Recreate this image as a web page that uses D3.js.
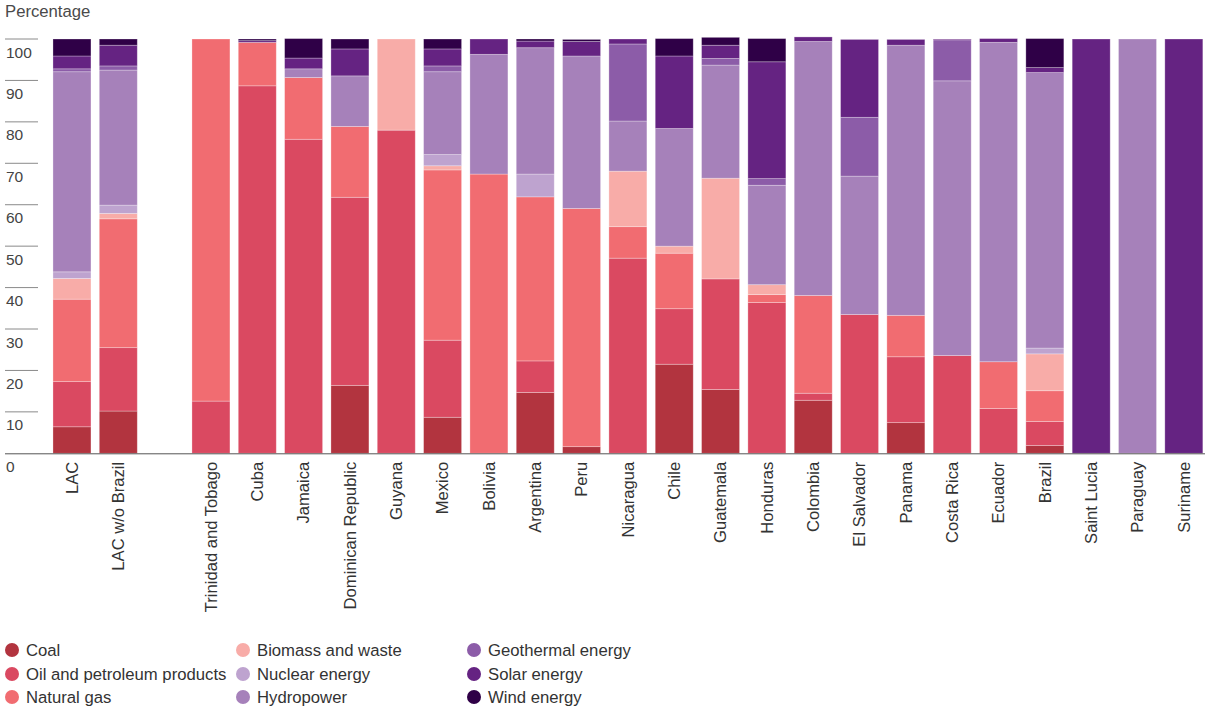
<!DOCTYPE html>
<html><head><meta charset="utf-8">
<script src="https://cdn.jsdelivr.net/npm/d3@7"></script>
<style>
html,body{margin:0;padding:0;background:#fff;}
svg{display:block;font-family:"Liberation Sans",Arial,sans-serif;}
</style></head>
<body>
<svg id="chart" width="1210" height="715"></svg>
<script>
const categories = ["LAC","LAC w/o Brazil","Trinidad and Tobago","Cuba","Jamaica","Dominican Republic","Guyana","Mexico","Bolivia","Argentina","Peru","Nicaragua","Chile","Guatemala","Honduras","Colombia","El Salvador","Panama","Costa Rica","Ecuador","Brazil","Saint Lucia","Paraguay","Suriname"];
const coal       = [6.4,10.2,0,0,0,16.4,0,8.7,0,14.7,1.6,0,21.5,15.4,0,12.8,0,7.4,0,0,1.9,0,0,0];
const oil        = [10.9,15.3,12.6,88.7,75.8,45.4,78.0,18.6,0,7.6,0,47.1,13.4,26.7,36.4,1.7,33.5,15.9,23.6,10.8,5.8,0,0,0];
const naturalGas = [19.9,31.1,87.4,10.5,14.9,17.1,0,41.1,67.4,39.6,57.5,7.6,13.4,0,1.9,23.6,0,10.0,0,11.3,7.4,0,0,0];
const biomass    = [5.0,1.3,0,0,0,0,22.0,1.0,0,0,0,13.4,1.7,24.3,2.4,0,0,0,0,0,8.9,0,0,0];
const nuclear    = [1.6,2.0,0,0,0,0,0,2.7,0,5.5,0,0,0,0,0,0,0,0,0,0,1.4,0,0,0];
const hydro      = [48.3,32.6,0,0,2.1,12.2,0,20.0,28.9,30.5,36.8,12.1,28.4,27.3,24.0,61.3,33.4,65.2,66.3,77.1,66.5,0,100,0];
const geothermal = [0.7,1.0,0,0,0,0,0,1.4,0,0,0,18.6,0,1.6,1.6,0,14.2,0,9.9,0,0,0,0,0];
const solar      = [3.1,5.0,0,0.4,2.6,6.5,0,4.1,3.7,1.6,3.5,1.2,17.5,3.2,28.2,1.1,18.8,1.4,0.2,0.9,1.2,100,0,100];
const wind       = [4.1,1.5,0,0.4,4.7,2.4,0,2.4,0,0.5,0.5,0,4.2,1.9,5.6,0,0,0,0,0,7.0,0,0,0];
const seriesNames = ["Coal","Oil and petroleum products","Natural gas","Biomass and waste","Nuclear energy","Hydropower","Geothermal energy","Solar energy","Wind energy"];
const seriesValues = [coal,oil,naturalGas,biomass,nuclear,hydro,geothermal,solar,wind];
const colors = ["#b2343f","#da4961","#f16c71","#f8aca8","#bea3cf","#a681ba","#8c5ca8","#652382","#2f0047"];
const yTicks = [0,10,20,30,40,50,60,70,80,90,100];

const svg = d3.select("#chart");
const GAP = "__gap__";
const domain = [categories[0], categories[1], GAP, ...categories.slice(2)];

const x = d3.scaleBand().domain(domain).range([48.8, 1207]).paddingInner(0.18).paddingOuter(0.09);
const y = d3.scaleLinear().domain([0,100]).range([453.3, 39]);

const rows = categories.map((c,i)=>{
  const r = {cat:c};
  seriesNames.forEach((s,j)=>{ r[s] = seriesValues[j][i]; });
  return r;
});
const stacked = d3.stack().keys(seriesNames)(rows);

// y ticks (lines with labels below)
const yg = svg.append("g");
yTicks.forEach(t=>{
  if (t>0) yg.append("line").attr("x1",5).attr("x2",38).attr("y1",y(t)).attr("y2",y(t))
    .attr("stroke","#8a8a8a").attr("stroke-width",1);
  yg.append("text").attr("x",6).attr("y",y(t)+18.5).text(t)
    .attr("font-size",15.5).attr("fill","#444");
});

svg.append("text").attr("x",5).attr("y",16.5).text("Percentage")
  .attr("font-size",16.7).attr("fill","#4a4a4a");

// bars
stacked.forEach((layer,j)=>{
  svg.append("g").selectAll("rect").data(layer.filter(d=>d[1]-d[0]>0)).join("rect")
    .attr("x",d=>x(d.data.cat))
    .attr("width",x.bandwidth())
    .attr("y",d=>y(d[1]))
    .attr("height",d=>y(d[0])-y(d[1]))
    .attr("fill",colors[j])
    .attr("stroke","rgba(255,255,255,0.35)")
    .attr("stroke-width",0.8);
});

// baseline
svg.append("line").attr("x1",5).attr("x2",1205).attr("y1",y(0)+0.5).attr("y2",y(0)+0.5)
  .attr("stroke","#555").attr("stroke-width",1);

// x labels
const xa = svg.append("g").attr("transform",`translate(0,${y(0)})`)
  .call(d3.axisBottom(x).tickSize(0).tickFormat(d=>d===GAP?"":d));
xa.select(".domain").remove();
xa.selectAll(".tick text")
  .attr("font-size",16.6).attr("fill","#333")
  .attr("font-family","'Liberation Sans',Arial,sans-serif")
  .attr("transform","rotate(-90)")
  .attr("text-anchor","end")
  .attr("x",-8.5).attr("y",0).attr("dx",0).attr("dy","0.35em");

// legend
const legX = [12,243,474];
const legY = [650,674,697];
seriesNames.forEach((s,i)=>{
  const col = Math.floor(i/3), row = i%3;
  const g = svg.append("g").attr("transform",`translate(${legX[col]},${legY[row]})`);
  g.append("circle").attr("r",7).attr("fill",colors[i]);
  g.append("text").attr("x",14).attr("y",0).attr("dy","0.35em").text(s)
    .attr("font-size",16.7).attr("fill","#333");
});
</script>
</body></html>
